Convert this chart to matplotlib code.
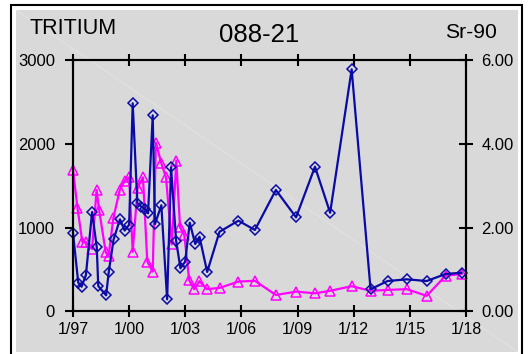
import matplotlib
matplotlib.use("Agg")
import matplotlib.pyplot as plt
import matplotlib.patches as patches
from matplotlib.lines import Line2D

plt.rcParams['font.family'] = ['Liberation Sans', 'DejaVu Sans']

# tritium (left axis)
h3_years = [1997.00, 1997.28, 1997.46, 1997.69, 1998.02, 1998.27, 1998.35, 1998.77,
            1998.91, 1999.17, 1999.51, 1999.76, 2000.00, 2000.19, 2000.44, 2000.66,
            2000.85, 2001.01, 2001.26, 2001.38, 2001.72, 2002.03, 2002.24, 2002.51,
            2002.74, 2002.99, 2003.24, 2003.53, 2003.76, 2004.17, 2004.83, 2005.84,
            2006.72, 2007.84, 2008.92, 2009.93, 2010.74, 2011.89, 2012.90, 2013.81,
            2014.83, 2015.90, 2016.91, 2017.76]
h3_values = [939, 342, 294, 434, 1187, 765, 302, 191, 470, 860, 1099, 965, 1035, 2486,
             1290, 1250, 1219, 1171, 2342, 1043, 1267, 143, 1721, 844, 514, 593, 1059,
             804, 891, 470, 951, 1083, 972, 1450, 1123, 1728, 1178, 2892, 263, 362, 382,
             362, 446, 461]

# Sr-90 (right axis)
sr_years = [1997.00, 1997.24, 1997.50, 1997.68, 1998.02, 1998.26, 1998.40, 1998.75,
            1998.90, 1999.16, 1999.50, 1999.76, 2000.00, 2000.19, 2000.45, 2000.74,
            2000.97, 2001.26, 2001.43, 2001.72, 2001.97, 2002.28, 2002.52, 2002.72,
            2002.95, 2003.21, 2003.48, 2003.75, 2004.16, 2004.84, 2005.84, 2006.72,
            2007.84, 2008.92, 2009.93, 2010.74, 2011.89, 2012.90, 2013.81, 2014.83,
            2015.90, 2016.91, 2017.76]
sr_values = [3.38, 2.47, 1.66, 1.66, 1.49, 2.90, 2.41, 1.41, 1.32, 2.24, 2.90, 3.12,
             3.20, 1.42, 2.95, 3.20, 1.19, 0.95, 4.03, 3.54, 3.20, 1.60, 3.60, 2.01,
             1.82, 0.74, 0.53, 0.72, 0.53, 0.56, 0.71, 0.73, 0.39, 0.47, 0.43, 0.49,
             0.60, 0.49, 0.51, 0.53, 0.37, 0.85, 0.89]

x_ticks = [1997, 2000, 2003, 2006, 2009, 2012, 2015, 2018]
x_labels = ["1/97", "1/00", "1/03", "1/06", "1/09", "1/12", "1/15", "1/18"]
left_ticks = [0, 1000, 2000, 3000]
right_ticks = [0, 2, 4, 6]

W, H = 528, 354
fig = plt.figure(figsize=(W / 100, H / 100), dpi=100)
fig.patch.set_facecolor("white")

# outer black frame and gray panel (pixel coords -> figure fraction)
def px(x0, y0, x1, y1):
    return (x0 / W, 1 - y1 / H), (x1 - x0) / W, (y1 - y0) / H

xy, w, h = px(11, 5, 522, 360)
fig.patches.append(patches.Rectangle(xy, w, h, transform=fig.transFigure, zorder=-3,
                                     facecolor="white", edgecolor="black", lw=1.5))
xy, w, h = px(16, 10, 518, 352)
fig.patches.append(patches.Rectangle(xy, w, h, transform=fig.transFigure, zorder=-2,
                                     facecolor="#d9d9d9", edgecolor="none"))
fig.lines.append(Line2D([16 / W, 518 / W], [1 - 10 / H, 1 - 352 / H], zorder=-1,
                        transform=fig.transFigure, color="white", lw=0.6, alpha=0.3))

ax = fig.add_axes([73 / W, 1 - 311.3 / H, (466 - 73) / W, (311.3 - 60.3) / H])
ax2 = ax.twinx()
ax.set_zorder(ax2.get_zorder() + 1)
ax.patch.set_visible(False)
ax2.patch.set_visible(False)

ax.plot(h3_years, h3_values, color="#0a0aa5", lw=1.6, marker="D", ms=5.5,
        mfc="none", mec="#0a0aa5", mew=1.1, clip_on=False)
ax2.plot(sr_years, sr_values, color="#ff00ff", lw=1.6, marker="^", ms=7,
         mfc="none", mec="#ff00ff", mew=1.1, clip_on=False)

ax.set_xlim(1997, 2018)
ax.set_ylim(0, 3000)
ax2.set_ylim(0, 6)

for a in (ax, ax2):
    for s in a.spines.values():
        s.set_color("black")
        s.set_linewidth(1.5)

ax.set_xticks(x_ticks)
ax.set_xticklabels(x_labels)
ax.set_yticks(left_ticks)
ax.set_yticklabels([str(v) for v in left_ticks])
ax2.set_yticks(right_ticks)
ax2.set_yticklabels(["%.2f" % v for v in right_ticks])

ax.tick_params(axis="x", direction="inout", length=9, width=1.5, top=True,
               labelsize=11.5, pad=3)
ax.tick_params(axis="y", direction="out", length=6, width=1.5, labelsize=12, pad=7)
ax2.tick_params(axis="y", direction="inout", length=10, width=1.5, labelsize=12, pad=6)

fig.text(30 / W, 1 - 29 / H, "TRITIUM", fontsize=15.5, ha="left", va="center")
fig.text(259 / W, 1 - 35 / H, "088-21", fontsize=18.5, ha="center", va="center")
fig.text(497 / W, 1 - 32 / H, "Sr-90", fontsize=15.2, ha="right", va="center")

fig.savefig("out.png", dpi=100)
